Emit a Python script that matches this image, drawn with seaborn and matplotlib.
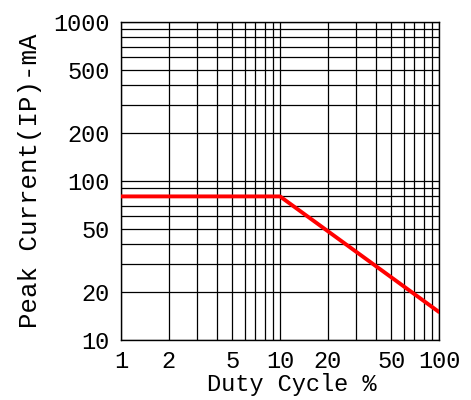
import matplotlib
matplotlib.use("Agg")
import matplotlib.pyplot as plt
import matplotlib.ticker as mticker
import numpy as np
import pandas as pd
import seaborn as sns

# Derating curve: peak current vs duty cycle
duty_cycle = [1, 10, 100]
peak_current = [80, 80, 15]

x_ticks = [1, 2, 5, 10, 20, 50, 100]
x_tick_labels = ["1", "2", "5", "10", "20", "50", "100"]
y_ticks = [10, 20, 50, 100, 200, 500, 1000]
y_tick_labels = ["10", "20", "50", "100", "200", "500", "1000"]

sns.set_theme(style="white")
plt.rcParams["font.family"] = ["Liberation Mono", "DejaVu Sans Mono"]

df = pd.DataFrame({"duty": duty_cycle, "current": peak_current})

fig = plt.figure(figsize=(4.71, 4.00), dpi=100)
ax = fig.add_axes([0.2569, 0.15, 0.6752, 0.795])

sns.lineplot(data=df, x="duty", y="current", ax=ax, color="#ff0000",
             linewidth=2.8, zorder=5)

ax.set_xscale("log")
ax.set_yscale("log")
ax.set_xlim(1, 100)
ax.set_ylim(10, 1000)

ax.xaxis.set_major_locator(mticker.FixedLocator(x_ticks))
ax.xaxis.set_major_formatter(mticker.FixedFormatter(x_tick_labels))
ax.yaxis.set_major_locator(mticker.FixedLocator(y_ticks))
ax.yaxis.set_major_formatter(mticker.FixedFormatter(y_tick_labels))
ax.xaxis.set_minor_locator(mticker.LogLocator(base=10, subs=np.arange(1, 10)))
ax.yaxis.set_minor_locator(mticker.LogLocator(base=10, subs=np.arange(1, 10)))
ax.xaxis.set_minor_formatter(mticker.NullFormatter())
ax.yaxis.set_minor_formatter(mticker.NullFormatter())

ax.grid(which="both", color="black", linewidth=0.9)
ax.tick_params(which="both", length=0, labelsize=17, colors="black")
ax.tick_params(axis="x", pad=7)
ax.tick_params(axis="y", pad=8)

for s in ax.spines.values():
    s.set_color("black")
    s.set_linewidth(1.0)

ax.set_xlabel("Duty Cycle %", fontsize=17, color="black")
ax.xaxis.set_label_coords(0.538, -0.105)
ax.set_ylabel("Peak Current(IP)-mA", fontsize=18.5, color="black", labelpad=8)

fig.savefig("out.png", dpi=100, facecolor="white")
